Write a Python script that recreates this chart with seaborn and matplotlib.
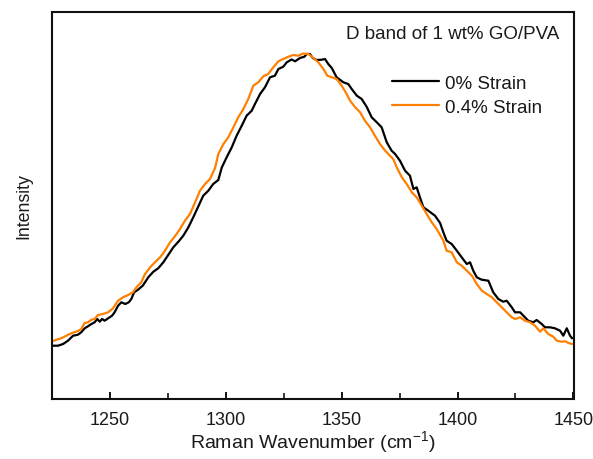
import matplotlib
matplotlib.use("Agg")
import matplotlib.pyplot as plt
import seaborn as sns
import pandas as pd
from matplotlib.ticker import MultipleLocator

# ---- data (wavenumber in cm^-1, intensity in arbitrary units) ----
wn_0 = [1225.0, 1227.8, 1230.0, 1232.1, 1234.3, 1236.4, 1237.8, 1239.3, 1240.7, 1242.2,
        1243.6, 1244.7, 1245.8, 1246.8, 1247.9, 1249.4, 1251.1, 1252.2, 1253.7, 1255.1,
        1256.8, 1258.3, 1259.4, 1260.6, 1262.3, 1264.4, 1266.7, 1268.9, 1271.0, 1273.2,
        1275.3, 1277.5, 1279.7, 1281.8, 1284.0, 1286.1, 1288.3, 1290.4, 1292.6, 1294.7,
        1296.9, 1298.4, 1300.5, 1302.7, 1304.8, 1307.0, 1309.1, 1311.3, 1312.7, 1314.9,
        1317.0, 1319.2, 1321.3, 1322.8, 1324.9, 1326.4, 1328.5, 1330.0, 1332.1, 1334.0,
        1335.0, 1336.4, 1337.6, 1339.3, 1341.5, 1342.9, 1344.3, 1345.8, 1347.9, 1350.8,
        1352.9, 1354.4, 1356.6, 1358.7, 1360.9, 1363.0, 1365.2, 1367.3, 1369.5, 1371.6,
        1373.1, 1375.2, 1377.4, 1379.5, 1381.0, 1382.4, 1383.8, 1385.3, 1387.4, 1390.3,
        1392.5, 1393.9, 1395.3, 1397.5, 1399.7, 1401.8, 1404.0, 1405.4, 1406.8, 1408.3,
        1410.4, 1413.3, 1415.4, 1417.6, 1419.7, 1421.2, 1423.4, 1424.8, 1427.0, 1428.4,
        1430.5, 1432.7, 1434.1, 1436.3, 1437.7, 1439.9, 1442.0, 1444.2, 1445.6, 1447.1,
        1448.5, 1449.4]
int_0 = [53.3, 53.3, 55.0, 58.3, 63.3, 64.3, 66.7, 70.7, 72.7, 75.0,
         76.7, 80.0, 77.3, 80.0, 78.3, 80.7, 83.3, 86.7, 93.3, 96.7,
         95.0, 96.7, 100.0, 106.7, 109.3, 113.5, 121.7, 127.3, 130.7, 136.7,
         144.0, 151.7, 157.3, 163.3, 171.7, 181.7, 192.7, 203.3, 208.3, 215.0,
         219.0, 231.5, 241.7, 251.7, 263.3, 273.3, 283.3, 288.3, 295.0, 305.0,
         311.7, 321.7, 323.3, 330.0, 332.3, 336.7, 339.5, 337.7, 341.0, 342.3,
         345.0, 345.0, 341.0, 339.0, 339.3, 340.0, 335.0, 331.0, 321.7, 316.7,
         315.0, 310.0, 303.3, 300.0, 292.0, 281.7, 276.7, 271.7, 256.7, 248.3,
         245.0, 238.3, 228.3, 223.3, 210.0, 211.7, 201.7, 191.7, 188.3, 183.3,
         176.0, 166.7, 158.3, 155.0, 148.3, 141.7, 135.0, 136.7, 128.3, 121.7,
         119.3, 118.3, 106.7, 100.0, 97.3, 98.3, 91.7, 86.7, 86.7, 83.3,
         78.3, 76.7, 79.0, 75.0, 71.7, 71.7, 70.7, 68.3, 63.3, 70.7,
         63.3, 60.7]

wn_04 = [1225.0, 1227.1, 1229.2, 1231.4, 1233.5, 1236.4, 1237.8, 1239.3, 1240.7, 1242.2,
         1243.6, 1245.0, 1247.2, 1249.4, 1251.5, 1253.7, 1255.8, 1258.0, 1260.1, 1261.6,
         1263.7, 1265.3, 1267.5, 1269.6, 1271.8, 1273.9, 1276.1, 1278.2, 1280.4, 1282.5,
         1284.7, 1286.9, 1289.0, 1291.2, 1293.3, 1295.5, 1296.9, 1299.1, 1301.2, 1303.4,
         1305.5, 1307.7, 1309.8, 1312.0, 1314.1, 1316.3, 1318.4, 1320.6, 1322.8, 1324.9,
         1327.1, 1329.2, 1331.4, 1333.5, 1335.7, 1337.9, 1340.0, 1342.2, 1343.9, 1345.8,
         1347.9, 1350.1, 1352.2, 1353.7, 1355.8, 1358.0, 1360.1, 1362.3, 1364.4, 1366.6,
         1368.8, 1370.9, 1372.3, 1373.8, 1376.0, 1378.1, 1380.3, 1382.4, 1384.6, 1386.7,
         1388.9, 1391.0, 1392.5, 1393.9, 1395.3, 1397.5, 1399.7, 1401.8, 1404.0, 1406.2,
         1408.3, 1410.5, 1412.6, 1414.8, 1416.9, 1419.1, 1421.2, 1423.4, 1424.8, 1427.0,
         1429.1, 1431.3, 1433.4, 1435.6, 1437.0, 1439.1, 1441.3, 1442.8, 1444.9, 1446.4,
         1447.8, 1449.4]
int_04 = [57.3, 59.3, 60.7, 63.3, 65.7, 68.0, 70.0, 76.0, 76.7, 79.3,
          80.0, 84.0, 85.0, 86.7, 90.7, 98.3, 101.7, 104.0, 106.7, 111.7,
          116.7, 125.0, 131.7, 136.7, 141.7, 148.3, 156.7, 162.7, 170.0, 178.3,
          185.0, 196.7, 208.3, 215.0, 220.0, 231.0, 245.0, 255.0, 261.7, 271.7,
          281.7, 290.0, 300.0, 313.3, 316.7, 322.7, 325.0, 331.7, 337.7, 340.0,
          342.3, 344.0, 343.3, 345.5, 345.0, 341.0, 336.7, 330.0, 323.3, 321.7,
          320.0, 313.3, 305.0, 298.3, 292.0, 286.7, 278.3, 271.7, 263.3, 255.0,
          248.3, 243.3, 240.0, 231.7, 221.7, 215.0, 206.7, 201.7, 193.3, 185.0,
          176.7, 170.0, 164.0, 158.3, 148.3, 146.7, 136.7, 133.3, 128.3, 123.3,
          115.0, 108.3, 105.0, 101.7, 96.7, 91.7, 86.7, 81.7, 80.0, 81.7,
          78.3, 76.7, 73.3, 67.3, 70.7, 65.0, 62.3, 58.3, 57.3, 57.7,
          56.0, 55.0]

series_labels = ["0% Strain", "0.4% Strain"]
series_colors = ["#000000", "#FF8000"]
x_ticks = [1250, 1300, 1350, 1400, 1450]
title_text = "D band of 1 wt% GO/PVA"
x_label = "Raman Wavenumber (cm$^{\\mathregular{-1}}$)"
y_label = "Intensity"

df = pd.concat([
    pd.DataFrame({"wn": wn_0, "I": int_0, "series": series_labels[0]}),
    pd.DataFrame({"wn": wn_04, "I": int_04, "series": series_labels[1]}),
], ignore_index=True)

sns.set_theme(style="ticks")
plt.rcParams["font.family"] = ["Liberation Sans", "DejaVu Sans"]
plt.rcParams["mathtext.fontset"] = "custom"
plt.rcParams["mathtext.rm"] = "Liberation Sans"
plt.rcParams["mathtext.it"] = "Liberation Sans"
plt.rcParams["mathtext.default"] = "regular"

fig = plt.figure(figsize=(5.93, 4.60), dpi=100)
ax = fig.add_axes([51.5 / 593, 60 / 460, 522 / 593, 387 / 460])

sns.lineplot(data=df, x="wn", y="I", hue="series", hue_order=series_labels,
             palette=series_colors, linewidth=1.6, sort=False, estimator=None,
             ax=ax, legend=True)

ax.set_xlim(1225, 1450)
ax.set_ylim(0, 387)
ax.set_xticks(x_ticks)
ax.xaxis.set_minor_locator(MultipleLocator(25))
ax.set_yticks([])
ax.tick_params(axis="x", which="major", direction="in", length=5.3, width=1.3,
               labelsize=13, pad=9, colors="#000000", labelcolor="#1a1a1a")
ax.tick_params(axis="x", which="minor", direction="in", length=4, width=1.3)
for sp in ax.spines.values():
    sp.set_linewidth(1.5)
    sp.set_color("#111111")
    sp.set_visible(True)

ax.set_xlabel(x_label, fontsize=14, color="#1a1a1a", labelpad=0)
ax.set_ylabel(y_label, fontsize=12.8, color="#1a1a1a", labelpad=14)

ax.text(0.972, 0.945, title_text, transform=ax.transAxes, ha="right", va="center",
        fontsize=13.5, color="#1a1a1a")

leg = ax.legend(loc="upper left", bbox_to_anchor=(0.652, 0.838), frameon=False,
                fontsize=13.5, handlelength=2.5, handletextpad=0.35,
                labelspacing=0.36, borderpad=0, borderaxespad=0)
for t in leg.get_texts():
    t.set_color("#1a1a1a")
for h in leg.get_lines():
    h.set_linewidth(1.6)

fig.savefig("out.png", dpi=100)
